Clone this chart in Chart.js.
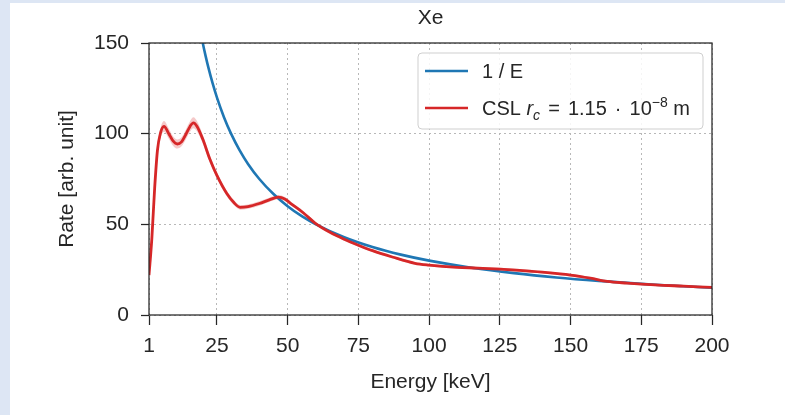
<!DOCTYPE html>
<html><head><meta charset="utf-8">
<script src="https://cdn.jsdelivr.net/npm/chart.js@4"></script>
<style>
html,body{margin:0;padding:0;width:785px;height:415px;overflow:hidden;background:#dde6f4;}
#panel{position:absolute;left:10px;top:3px;width:775px;height:412px;background:#fff;}
canvas{display:block;}
</style></head><body>
<div id="panel"><canvas id="c" width="775" height="412"></canvas></div>
<script>
// ---- data ----
const chartTitle = 'Xe';
const xTicks = [1, 25, 50, 75, 100, 125, 150, 175, 200];
const yTicks = [0, 50, 100, 150];

const blueE    = [19, 20, 21, 22, 23.5, 25, 27.5, 30, 33, 36, 40, 45, 50, 55, 60, 70, 80, 90, 100, 115, 130, 145, 160, 180, 200];
const blueRate = [157.9, 150, 142.9, 136.4, 127.7, 120, 109.1, 100, 90.9, 83.3, 75, 66.7, 60, 54.5, 50, 42.9, 37.5, 33.3, 30, 26.1, 23.1, 20.7, 18.8, 16.7, 15];

const cslE    = [1, 2, 3, 4, 5, 6.3, 8, 9.5, 11, 12.5, 14, 15.5, 16.7, 18, 20, 22.5, 25, 28.5, 31, 33.2, 36, 40, 43.5, 46.7, 49, 51, 55.5, 59.7, 65, 70, 75, 80, 87, 95, 100, 110, 117, 125, 132, 140, 150, 157, 163, 170, 180, 190, 200];
const cslRate = [22, 42, 70, 91, 100, 104, 100, 96, 94.3, 95.5, 99.5, 104, 106, 104, 97, 86, 77, 67, 62, 59.4, 59.8, 61.5, 63.5, 65, 64, 61.6, 56.4, 50.7, 45.6, 41.8, 38.5, 35.5, 32, 28.5, 27.5, 26.3, 25.9, 25.3, 24.6, 23.6, 22, 20.3, 18.5, 17.6, 16.6, 15.9, 15.2];
const cslBand = [0.8, 1.2, 1.8, 2.3, 2.8, 3, 2.8, 2.6, 2.5, 2.5, 2.7, 2.9, 3, 2.8, 2.4, 2, 1.7, 1.5, 1.4, 1.3, 1.2, 1.2, 1.2, 1.2, 1.1, 1, 1, 0.9, 0.9, 0.8, 0.8, 0.8, 0.7, 0.7, 0.7, 0.7, 0.7, 0.7, 0.7, 0.7, 0.7, 0.7, 0.7, 0.7, 0.7, 0.7, 0.7];

const BLUE = '#1f77b4', RED = '#d62728', TXT = '#262626';
const FAM = '"Liberation Sans", Arial, Helvetica, sans-serif';

const pts = (xs, ys) => xs.map((x, i) => ({x, y: ys[i]}));
const bandHi = cslRate.map((v, i) => v + cslBand[i]);
const bandLo = cslRate.map((v, i) => v - cslBand[i]);

const frameLegend = {
  id: 'frameLegend',
  afterDatasetsDraw(chart) {
    const ctx = chart.ctx, ca = chart.chartArea;
    ctx.save();
    ctx.strokeStyle = TXT; ctx.lineWidth = 1.25;
    ctx.strokeRect(ca.left, ca.top, ca.right - ca.left, ca.bottom - ca.top);
    ctx.restore();
  },
  afterDraw(chart) {
    const ctx = chart.ctx, ca = chart.chartArea;
    ctx.save();
    // title centred over the plot area
    ctx.fillStyle = TXT;
    ctx.font = `21px ${FAM}`;
    ctx.textAlign = 'center';
    ctx.textBaseline = 'middle';
    ctx.fillText(chartTitle, (ca.left + ca.right) / 2, 15);

    // legend
    const fs = 20, sfs = 14;
    const parts = [
      {t: 'CSL ', f: `${fs}px ${FAM}`, dy: 0},
      {t: 'r', f: `italic ${fs}px ${FAM}`, dy: 0},
      {t: 'c', f: `italic ${sfs}px ${FAM}`, dy: 5, gapAfter: 1},
      {t: '=', f: `${fs}px ${FAM}`, dy: 0, gapAfter: 1},
      {t: '1.15', f: `${fs}px ${FAM}`, dy: 0, gapAfter: 1},
      {t: '·', f: `${fs}px ${FAM}`, dy: 0, gapAfter: 1},
      {t: '10', f: `${fs}px ${FAM}`, dy: 0},
      {t: '−8', f: `${sfs}px ${FAM}`, dy: -8},
      {t: ' m', f: `${fs}px ${FAM}`, dy: 0}
    ];
    let textW = 0, gaps = 0;
    parts.forEach(p => { ctx.font = p.f; p.w = ctx.measureText(p.t).width; textW += p.w; if (p.gapAfter) gaps++; });
    const targetW = 208;
    const gapW = Math.max(2, (targetW - textW) / gaps);
    const right = ca.right - 9;
    const left = right - 285;
    const textX = left + 64;
    const sx1 = left + 7, sx2 = sx1 + 43;
    const top = ca.top + 10, h = 76;
    ctx.beginPath();
    ctx.roundRect(left, top, right - left, h, 4);
    ctx.fillStyle = 'rgba(255,255,255,0.85)';
    ctx.fill();
    ctx.strokeStyle = '#cfcfcf'; ctx.lineWidth = 1;
    ctx.stroke();
    const rows = [top + 18, top + 55];
    ctx.lineWidth = 2.6; ctx.lineCap = 'butt';
    ctx.strokeStyle = BLUE;
    ctx.beginPath(); ctx.moveTo(sx1, rows[0]); ctx.lineTo(sx2, rows[0]); ctx.stroke();
    ctx.strokeStyle = RED;
    ctx.beginPath(); ctx.moveTo(sx1, rows[1]); ctx.lineTo(sx2, rows[1]); ctx.stroke();
    ctx.fillStyle = TXT;
    ctx.textBaseline = 'alphabetic';
    ctx.textAlign = 'left';
    ctx.font = `${fs}px ${FAM}`;
    ctx.fillText('1 / E', textX, rows[0] + 7);
    let x = textX;
    parts.forEach(p => { ctx.font = p.f; ctx.fillText(p.t, x, rows[1] + 7 + p.dy); x += p.w + (p.gapAfter ? gapW : 0); });
    ctx.restore();
  }
};

new Chart(document.getElementById('c'), {
  type: 'line',
  data: {
    datasets: [
      {label: 'CSL', data: pts(cslE, cslRate), borderColor: RED, borderWidth: 2.8, pointRadius: 0, cubicInterpolationMode: 'monotone', fill: false, order: 0},
      {label: '1 / E', data: pts(blueE, blueRate), borderColor: BLUE, borderWidth: 2.6, pointRadius: 0, cubicInterpolationMode: 'monotone', fill: false, order: 1},
      {label: 'band hi', data: pts(cslE, bandHi), borderWidth: 0, borderColor: 'rgba(0,0,0,0)', pointRadius: 0, cubicInterpolationMode: 'monotone', backgroundColor: 'rgba(214,39,40,0.25)', fill: '+1', order: 2},
      {label: 'band lo', data: pts(cslE, bandLo), borderWidth: 0, borderColor: 'rgba(0,0,0,0)', pointRadius: 0, cubicInterpolationMode: 'monotone', fill: false, order: 3}
    ]
  },
  options: {
    responsive: false, animation: false, devicePixelRatio: 1,
    layout: {padding: {left: 0, right: 73, top: 40, bottom: 0}},
    plugins: {
      legend: {display: false},
      tooltip: {enabled: false},
      title: {display: false}
    },
    scales: {
      x: {
        type: 'linear', min: 1, max: 200,
        afterBuildTicks: s => { s.ticks = xTicks.map(v => ({value: v})); },
        afterFit: s => { s.height = 100; },
        ticks: {autoSkip: false, maxRotation: 0, color: TXT, font: {family: FAM, size: 21}, padding: 9},
        grid: {color: '#b8b8b8', lineWidth: 1, tickLength: 10, tickColor: TXT, tickWidth: 1.25},
        border: {display: false, dash: [2, 3]},
        title: {display: true, text: 'Energy [keV]', color: TXT, font: {family: FAM, size: 21}, padding: {top: 0, bottom: 20}}
      },
      y: {
        min: 0, max: 150,
        afterBuildTicks: s => { s.ticks = yTicks.map(v => ({value: v})); },
        afterFit: s => { s.width = 139; },
        ticks: {color: TXT, font: {family: FAM, size: 21}, padding: 12},
        grid: {color: '#b8b8b8', lineWidth: 1, tickLength: 8, tickColor: TXT, tickWidth: 1.25},
        border: {display: false, dash: [2, 3]},
        title: {display: true, text: 'Rate [arb. unit]', color: TXT, font: {family: FAM, size: 21}, padding: {top: 45, bottom: 0}}
      }
    }
  },
  plugins: [frameLegend]
});
</script>
</body></html>
